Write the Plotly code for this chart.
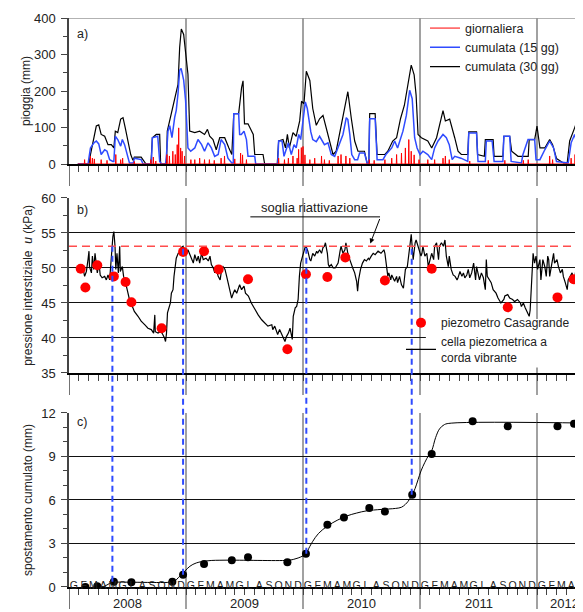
import plotly.graph_objects as go

# ---------------- data (time t = months since 1 Jan 2008) ----------------
month_letters = ["G", "F", "M", "A", "M", "G", "L", "A", "S", "O", "N", "D"]
year_labels = ["2008", "2009", "2010", "2011", "2012"]

rain_daily_t = [1.6, 2.2, 2.4, 2.6, 3.3, 3.9, 4.8, 5.3, 5.5, 6.7, 8.4, 8.65, 8.9, 10.05, 10.3, 10.65,
                10.9, 11.1, 11.25, 11.45, 11.6, 11.85, 12.5, 12.9, 13.4, 13.9, 14.4, 14.9, 15.6, 15.95,
                17.0, 17.6, 17.8, 18.2, 21.5, 22.1, 22.5, 22.97, 23.4, 23.55, 23.83, 24.0, 24.2, 24.7,
                25.2, 25.9, 26.2, 26.7, 27.6, 27.9, 28.4, 28.8, 30.8, 31.3, 32.4, 33.1, 33.6, 34.1,
                34.5, 34.85, 35.1, 35.4, 35.9, 36.8, 37.5, 38.36, 38.6, 39.0, 41.1, 43.0, 44.7, 46.6,
                47.1, 49.3, 49.6, 51.5, 51.9, 52.9, 53.2]
rain_daily_mm = [12, 21, 16, 14, 12, 10, 26, 12, 16, 7, 12, 19, 8, 26, 22, 35,
                 26, 53, 99, 44, 35, 22, 12, 12, 16, 12, 12, 10, 16, 22,
                 14, 30, 25, 12, 16, 12, 16, 22, 16, 40, 45, 48, 25, 12,
                 16, 22, 12, 10, 22, 26, 22, 16, 12, 10, 12, 16, 26, 30,
                 44, 67, 35, 25, 12, 12, 12, 16, 22, 12, 8, 10, 10, 10,
                 12, 22, 12, 16, 26, 22, 16]

rain15_t = [0.9, 1.95, 2.2, 2.56, 2.8, 3.05, 3.3, 3.66, 3.9, 4.17, 4.5, 4.6, 4.75, 5.0, 5.3, 5.47, 5.7,
            6.0, 6.2, 6.6, 6.7, 7.4, 7.6, 8.45, 8.55, 9.1, 9.3, 9.5, 9.9, 10.0, 10.15, 10.33, 10.56,
            10.84, 11.0, 11.18, 11.35, 11.5, 11.76, 11.96, 12.2, 12.48, 12.9, 13.23, 13.6, 13.9, 14.26,
            14.6, 14.94, 15.3, 15.6, 15.97, 16.3, 16.7, 16.85, 16.9, 17.4, 17.5, 17.67, 17.95, 18.2,
            18.36, 19.05, 19.15, 21.4, 21.5, 21.85, 22.05, 22.3, 22.5, 22.8, 23.08, 23.3, 23.56, 23.76,
            24.0, 24.24, 24.44, 24.8, 25.0, 25.36, 25.7, 26.2, 26.56, 26.9, 27.25, 27.6, 28.1, 28.44,
            28.6, 28.8, 29.0, 29.3, 29.6, 29.8, 30.3, 30.6, 30.75, 30.84, 31.4, 31.6, 32.2, 32.5, 33.1,
            33.4, 33.7, 34.25, 34.6, 34.94, 35.2, 35.45, 35.7, 36.0, 36.3, 36.8, 37.2, 37.5, 37.85,
            38.36, 38.7, 39.0, 39.3, 39.56, 40.2, 40.9, 41.0, 41.8, 41.95, 42.7, 42.8, 43.4, 43.6, 44.5,
            44.6, 45.2, 45.35, 46.4, 46.56, 47.08, 47.76, 47.9, 48.3, 48.8, 49.3, 49.7, 50.0, 51.2,
            51.5, 51.86, 52.2, 52.5, 53.06, 53.6]
rain15_mm = [0, 0, 44, 58, 63, 55, 26, 39, 35, 12, 7, 7, 76, 67, 49, 67, 53,
             26, 3, 3, 16, 12, 0, 0, 72, 76, 7, 0, 0, 26, 90, 105, 72,
             128, 147, 193, 257, 262, 230, 173, 44, 35, 44, 67, 53, 35, 58,
             44, 21, 26, 67, 53, 16, 3, 3, 138, 138, 81, 81, 90, 67,
             21, 21, 0, 0, 63, 63, 21, 44, 58, 26, 53, 44, 81, 67,
             127, 170, 152, 88, 67, 61, 76, 53, 58, 26, 21, 44, 81, 127,
             122, 81, 26, 12, 12, 30, 30, 0, 0, 124, 124, 12, 12, 26, 44,
             63, 44, 90, 133, 202, 179, 72, 44, 26, 35, 26, 12, 44, 63,
             81, 72, 53, 12, 21, 16, 7, 85, 85, 7, 7, 63, 63, 7, 7,
             76, 76, 7, 3, 26, 67, 67, 12, 12, 39, 63, 44, 7, 3,
             58, 81, 44, 67, 63, 67]

rain30_t = [0.9, 2.05, 2.2, 2.46, 2.8, 3.05, 3.3, 3.66, 4.0, 4.34, 4.6, 4.75, 5.0, 5.3, 5.54, 5.77,
            6.05, 6.33, 6.56, 6.7, 7.4, 7.76, 7.9, 8.4, 8.55, 8.95, 9.3, 9.4, 10.0, 10.08, 10.33, 10.56,
            10.77, 11.0, 11.18, 11.35, 11.52, 11.76, 11.97, 12.2, 12.38, 12.9, 13.4, 13.9, 14.2, 14.43,
            14.77, 15.1, 15.46, 15.97, 16.4, 16.7, 16.9, 17.4, 17.7, 17.85, 18.0, 18.36, 18.9, 19.05,
            19.9, 20.07, 21.36, 21.5, 21.95, 22.2, 22.4, 22.6, 22.97, 23.3, 23.66, 23.85, 24.1, 24.34,
            24.7, 25.0, 25.36, 25.7, 26.05, 26.4, 26.74, 27.08, 27.4, 27.9, 28.3, 28.6, 28.96, 29.3,
            29.64, 30.3, 30.6, 30.75, 30.84, 31.4, 31.6, 32.4, 32.7, 33.2, 33.6, 34.0, 34.4, 34.77,
            35.1, 35.4, 35.6, 35.8, 36.14, 36.8, 37.2, 37.7, 38.36, 38.6, 39.04, 39.56, 39.9, 40.24,
            40.9, 41.0, 41.8, 41.9, 42.6, 42.7, 43.5, 43.6, 44.5, 44.6, 45.2, 45.4, 46.05, 47.1, 47.2,
            47.76, 48.0, 48.3, 48.8, 49.3, 49.6, 50.0, 50.7, 51.1, 51.35, 51.86, 52.1, 52.5, 52.9,
            53.4, 53.6]
rain30_mm = [0, 0, 26, 63, 104, 107, 81, 76, 53, 53, 44, 90, 86, 123, 127, 99,
             63, 26, 10, 19, 19, 7, 0, 0, 72, 81, 81, 0, 0, 90, 118, 146,
             164, 191, 218, 319, 370, 355, 300, 246, 90, 86, 90, 81, 95, 76,
             67, 39, 72, 72, 44, 26, 138, 138, 209, 228, 110, 110, 81, 26,
             26, 0, 0, 63, 67, 44, 81, 44, 86, 76, 118, 172, 165, 254,
             229, 152, 106, 124, 133, 99, 63, 26, 35, 99, 152, 198, 124, 63,
             35, 35, 0, 0, 138, 138, 26, 26, 35, 63, 72, 124, 161, 225,
             271, 244, 189, 81, 72, 63, 44, 72, 146, 118, 123, 72, 35, 26,
             26, 88, 88, 26, 21, 67, 67, 21, 21, 76, 76, 35, 21, 21, 67,
             67, 104, 44, 44, 67, 53, 15, 3, 3, 63, 99, 118, 90, 113,
             90, 95]

piezo_t = [1.26, 1.44, 1.6, 1.78, 1.95, 2.05, 2.1, 2.3, 2.4, 2.53, 2.67, 2.8, 2.9, 3.08, 3.2, 3.4,
           3.66, 3.83, 4.0, 4.17, 4.27, 4.38, 4.5, 4.6, 4.72, 4.8, 4.92, 5.06, 5.2, 5.26, 5.47, 5.6,
           5.8, 6.05, 6.2, 6.5, 6.7, 7.08, 7.4, 7.76, 8.1, 8.44, 8.68, 8.8, 8.85, 9.13, 9.37, 9.54,
           9.64, 9.8, 9.9, 10.0, 10.1, 10.26, 10.4, 10.5, 10.67, 10.77, 10.9, 11.0, 11.2, 11.35, 11.5,
           11.7, 11.86, 12.03, 12.2, 12.38, 12.58, 12.75, 12.9, 13.1, 13.26, 13.4, 13.6, 13.77, 14.05,
           14.29, 14.46, 14.6, 14.8, 14.95, 15.1, 15.3, 15.5, 15.66, 15.8, 16.0, 16.17, 16.34, 16.5,
           16.68, 16.85, 17.0, 17.2, 17.37, 17.5, 17.7, 17.95, 18.1, 18.4, 18.7, 19.1, 19.4, 19.76,
           20.1, 20.4, 20.8, 20.9, 21.1, 21.3, 21.4, 21.6, 21.8, 21.98, 22.15, 22.3, 22.5, 22.67, 22.8,
           22.9, 23.0, 23.2, 23.35, 23.5, 23.63, 23.76, 23.9, 24.03, 24.2, 24.3, 24.5, 24.7, 24.8,
           25.0, 25.2, 25.4, 25.5, 25.7, 25.9, 26.05, 26.2, 26.3, 26.5, 26.6, 26.7, 26.9, 27.1, 27.3,
           27.4, 27.6, 27.8, 27.9, 28.1, 28.3, 28.4, 28.6, 28.8, 28.95, 29.1, 29.3, 29.5, 29.6, 29.7,
           29.9, 30.1, 30.3, 30.5, 30.7, 30.8, 31.0, 31.2, 31.4, 31.7, 32.0, 32.3, 32.4, 32.5, 32.7,
           32.8, 33.0, 33.1, 33.4, 33.6, 33.7, 33.9, 34.1, 34.3, 34.4, 34.5, 34.7, 34.9, 35.0, 35.1,
           35.2, 35.3, 35.5, 35.6, 35.8, 35.98, 36.1, 36.2, 36.3, 36.5, 36.7, 36.85, 37.0, 37.2, 37.4,
           37.5, 37.7, 37.9, 38.0, 38.2, 38.4, 38.56, 38.7, 38.9, 39.0, 39.2, 39.4, 39.6, 39.8, 39.9,
           40.1, 40.3, 40.45, 40.6, 40.8, 40.95, 41.1, 41.3, 41.5, 41.6, 41.7, 41.8, 41.98, 42.1, 42.3,
           42.5, 42.7, 42.8, 42.9, 43.1, 43.3, 43.5, 43.8, 44.0, 44.3, 44.6, 44.7, 45.0, 45.2, 45.5,
           45.7, 46.0, 46.3, 46.4, 46.6, 46.8, 47.0, 47.2, 47.3, 47.4, 47.5, 47.6, 47.75, 47.9, 48.06,
           48.3, 48.4, 48.6, 48.8, 48.95, 49.1, 49.2, 49.3, 49.5, 49.7, 49.8, 50.05, 50.2, 50.4, 50.6,
           50.7, 50.9, 51.1, 51.2, 51.4, 51.6, 51.8, 51.9, 52.1, 52.2, 52.4, 52.5, 52.7, 52.9, 53.1,
           53.2, 53.4, 53.6]
piezo_kpa = [50.2, 50.0, 48.8, 49.5, 51.2, 52.4, 50.2, 49.3, 51.7, 49.8, 52.1, 50.2, 49.3, 50.7, 49.0, 48.6,
             48.8, 48.3, 49.0, 48.3, 50.2, 53.1, 54.5, 55.2, 53.1, 49.8, 52.1, 49.3, 53.1, 49.5, 50.2, 48.8,
             47.9, 46.4, 45.5, 44.5, 43.8, 43.1, 42.4, 41.9, 41.4, 41.2, 40.7, 43.3, 40.9, 40.7, 40.9, 40.7,
             40.5, 40.0, 39.5, 40.7, 43.6, 44.5, 45.0, 46.4, 46.9, 48.8, 50.7, 51.4, 52.1, 52.1, 52.9,
             53.1, 52.4, 51.9, 52.6, 51.9, 51.2, 50.7, 51.9, 51.0, 51.7, 50.7, 52.1, 51.2, 51.4,
             51.0, 51.7, 50.5, 50.0, 49.3, 49.8, 48.8, 48.3, 49.8, 50.2, 49.8, 48.8, 47.9, 46.9,
             45.7, 46.4, 46.9, 46.4, 47.1, 47.6, 46.9, 47.4, 46.4, 46.0, 45.0, 44.0, 43.3, 42.6,
             42.1, 41.7, 41.9, 41.2, 41.7, 40.7, 40.5, 41.2, 40.5, 40.0, 39.5, 40.2, 40.7, 41.4, 40.7,
             39.8, 43.1, 44.3, 44.5, 45.5, 48.8, 50.7, 51.4, 52.1, 52.9, 53.1, 52.4, 51.2, 51.0,
             52.1, 51.7, 52.4, 52.1, 52.6, 52.1, 52.9, 53.1, 53.6, 52.1, 50.5, 50.2, 50.5, 50.0, 50.0,
             50.2, 50.7, 52.4, 53.1, 52.1, 52.6, 53.6, 52.1, 51.2, 50.5, 50.0, 49.3, 48.1, 46.7, 48.3,
             49.8, 50.7, 51.2, 51.0, 51.4, 51.2, 51.7, 52.1, 51.9, 52.4, 52.1, 52.6, 52.1, 51.0, 48.8,
             49.3, 48.3, 49.0, 48.1, 48.8, 47.9, 48.8, 47.6, 47.1, 48.8, 49.8, 50.2, 52.1, 53.6, 54.8,
             53.1, 51.2, 53.6, 54.0, 53.1, 52.1, 51.7, 52.1, 53.1, 51.7, 52.1, 50.2, 51.0, 52.1, 51.2,
             53.1, 53.6, 51.2, 53.1, 53.6, 53.1, 54.0, 51.7, 50.2, 51.7, 49.8, 49.0, 48.8, 48.3, 48.6,
             49.5, 48.8, 49.3, 48.6, 49.0, 49.8, 48.6, 49.3, 50.7, 49.8, 48.3, 50.2, 49.0, 48.3, 49.3,
             48.6, 46.9, 51.2, 48.8, 48.3, 47.9, 46.9, 46.4, 45.7, 45.0, 45.5, 46.0, 46.2, 45.7, 45.5,
             45.2, 45.5, 45.0, 44.5, 45.0, 44.3, 43.6, 43.1, 44.0, 47.4, 49.8, 52.1, 50.7, 51.7, 49.8,
             51.2, 48.3, 51.2, 50.2, 48.8, 51.7, 51.2, 48.8, 50.2, 52.1, 50.7, 51.2, 50.2, 49.3, 49.8,
             48.8, 47.9, 46.9, 48.3, 48.8, 49.3, 48.1, 48.8, 51.2, 48.3, 48.8, 48.1, 48.3, 48.8, 47.9,
             46.9, 47.4, 47.0]

casagrande_t = [1.2, 1.68, 2.9, 4.6, 5.8, 6.4, 9.5, 11.7, 13.85, 15.35, 18.36, 22.4, 24.3, 26.5,
                28.34, 32.4, 37.2, 45.0, 50.1, 51.75, 53.45]
casagrande_kpa = [49.9, 47.2, 50.4, 48.8, 48.0, 45.1, 41.4, 52.3, 52.4, 49.8, 48.4, 38.4, 49.1, 48.7,
                  51.5, 48.2, 49.9, 44.4, 45.8, 48.4, 48.4]

disp_t = [1.68, 2.9, 4.6, 6.4, 10.6, 11.7, 13.85, 16.7, 18.36, 22.4, 24.3, 26.5, 28.2, 30.8,
          32.4, 35.2, 37.2, 41.4, 45.0, 50.1, 51.8, 53.4]
disp_mm = [0.0, 0.05, 0.37, 0.32, 0.37, 0.85, 1.59, 1.84, 2.05, 1.7, 2.3, 4.3, 4.8, 5.45,
           5.2, 6.37, 9.17, 11.43, 11.08, 11.08, 11.26, 11.08]

disp_fit_t = [3.25, 3.6, 4.0, 4.3, 4.6, 10.5, 10.8, 11.35, 11.86, 12.4, 13.06, 14.26, 16.0, 22.4,
              23.0, 23.5, 24.0, 24.3, 24.7, 25.0, 25.6, 26.5, 27.5, 28.5, 29.5, 30.5, 32.0, 33.5,
              34.1, 34.5, 34.77, 35.2, 35.5, 35.8, 36.1, 36.5, 36.9, 37.2, 37.6, 38.0, 38.5, 39.2, 53.6]
disp_fit_mm = [0.0, 0.05, 0.18, 0.3, 0.33, 0.33, 0.38, 0.74, 1.08, 1.43, 1.66, 1.81, 1.85, 1.84,
               1.9, 2.0, 2.15, 2.3, 2.8, 3.15, 3.7, 4.2, 4.6, 4.9, 5.1, 5.25, 5.35, 5.42,
               5.5, 5.7, 5.9, 6.37, 6.8, 7.4, 8.0, 8.6, 9.1, 9.4, 10.3, 10.9, 11.2, 11.3, 11.3]

soglia_kpa = 53.1
react_t = [4.45, 11.7, 24.34, 35.15]
react_disp = [0.37, 0.85, 2.3, 6.37]

# ---------------- layout geometry ----------------
XMAX = 522 / 9.75
DA = [0.7434, 1.0]
DB = [0.3761, 0.6837]
DC = [0.0, 0.3058]
PX = 1 / 569.0
FONT = "Liberation Sans, Arial, sans-serif"


def pyb(v):
    return DB[0] + (v - 35) / 25 * (DB[1] - DB[0])


def pyc(v):
    return DC[0] + v / 12 * (DC[1] - DC[0])


# red daily series as thin spikes from a zero baseline
dx, dy = [0.9], [0]
for t, v in sorted(zip(rain_daily_t, rain_daily_mm)):
    dx += [t - 0.03, t, t + 0.03]
    dy += [0, v, 0]
dx.append(XMAX)
dy.append(0)

fig = go.Figure()
fig.add_trace(go.Scatter(x=rain30_t, y=rain30_mm, mode="lines", name="cumulata (30 gg)",
                         line=dict(color="black", width=1.2), xaxis="x", yaxis="y", legend="legend"))
fig.add_trace(go.Scatter(x=rain15_t, y=rain15_mm, mode="lines", name="cumulata (15 gg)",
                         line=dict(color="#2f4bff", width=1.5), xaxis="x", yaxis="y", legend="legend"))
fig.add_trace(go.Scatter(x=dx, y=dy, mode="lines", name="giornaliera",
                         line=dict(color="#ff0000", width=1), xaxis="x", yaxis="y", legend="legend"))
fig.add_trace(go.Scatter(x=piezo_t, y=piezo_kpa, mode="lines", name="cella piezometrica a<br>corda vibrante",
                         line=dict(color="black", width=1.2), xaxis="x2", yaxis="y2", legend="legend2"))
fig.add_trace(go.Scatter(x=casagrande_t, y=casagrande_kpa, mode="markers", name="piezometro Casagrande",
                         marker=dict(color="#ff0000", size=10), xaxis="x2", yaxis="y2", legend="legend2"))
fig.add_trace(go.Scatter(x=disp_fit_t, y=disp_fit_mm, mode="lines", line=dict(color="black", width=1, shape="spline"),
                         xaxis="x3", yaxis="y3", showlegend=False))
fig.add_trace(go.Scatter(x=disp_t, y=disp_mm, mode="markers", marker=dict(color="black", size=8),
                         xaxis="x3", yaxis="y3", showlegend=False))

shapes = []
ext = 22 * PX
for dom in (DA, DB, DC):
    for yr in (12, 24, 36, 48):
        shapes.append(dict(type="line", xref="x", yref="paper", x0=yr, x1=yr, y0=dom[0] - ext, y1=dom[1],
                           line=dict(color="#8a8a8a", width=1.6), layer="below"))
    shapes.append(dict(type="line", xref="x", yref="paper", x0=0, x1=0, y0=dom[0] - ext, y1=dom[0],
                       line=dict(color="#444", width=1.5), layer="below"))
# top frame of panel a
shapes.append(dict(type="line", xref="x", yref="y", x0=0, x1=XMAX, y0=400, y1=400,
                   line=dict(color="#999", width=1.5), layer="below"))
# white box behind the panel-b legend (hides the 40 kPa grid line there)
shapes.append(dict(type="rect", xref="x2", yref="y2", x0=36.6, x1=XMAX, y0=35.8, y1=42.7,
                   fillcolor="white", line=dict(width=0), layer="between"))
# threshold line
shapes.append(dict(type="line", xref="x2", yref="y2", x0=0, x1=XMAX, y0=soglia_kpa, y1=soglia_kpa,
                   line=dict(color="#ff4d4d", width=1.6, dash="8px,5px"), layer="above"))
# reactivation dashed lines from panel b to panel c
for t, d in zip(react_t, react_disp):
    shapes.append(dict(type="line", xref="x", yref="paper", x0=t, x1=t, y0=pyc(d), y1=pyb(soglia_kpa),
                       line=dict(color="#2f4bff", width=2, dash="6px,4px"), layer="above"))
# underline of the threshold label
shapes.append(dict(type="line", xref="x2", yref="y2", x0=18.6, x1=31.9, y0=57.3, y1=57.3,
                   line=dict(color="black", width=1)))

annotations = [
    dict(text="a)", x=0.6, y=356, xref="x", yref="y", showarrow=False, xanchor="left",
         font=dict(size=12.5, color="#222", family=FONT)),
    dict(text="b)", x=0.6, y=58.3, xref="x2", yref="y2", showarrow=False, xanchor="left",
         font=dict(size=12.5, color="#222", family=FONT)),
    dict(text="c)", x=0.6, y=11.4, xref="x3", yref="y3", showarrow=False, xanchor="left",
         font=dict(size=12.5, color="#222", family=FONT)),
    dict(text="soglia riattivazione", x=25.2, y=58.7, xref="x2", yref="y2", showarrow=False,
         font=dict(size=13, color="#222", family=FONT)),
    dict(text="", x=30.9, y=53.5, xref="x2", yref="y2", showarrow=True, ax=10, ay=-26,
         arrowhead=2, arrowsize=1, arrowwidth=1, arrowcolor="black"),
]
year_pos = [6, 18, 30, 42, (48 + XMAX) / 2]
for lbl, pos in zip(year_labels, year_pos):
    annotations.append(dict(text=lbl, x=pos, y=-26 * PX, xref="x", yref="paper", showarrow=False,
                            font=dict(size=13, color="#222", family=FONT)))

n_months = 54
mid_vals = [i + 0.5 for i in range(n_months)]
mid_text = [month_letters[i % 12] for i in range(n_months)]
minor_ticks = dict(tickmode="array", tickvals=list(range(1, n_months)), ticks="outside", ticklen=6,
                   tickcolor="#444", tickwidth=1, showgrid=False)

xbase = dict(range=[0, XMAX], showgrid=False, zeroline=False, showline=True, linecolor="black", linewidth=1.5,
             tickmode="array", tickvals=mid_vals, ticktext=mid_text, ticks="", tickangle=0, minor=minor_ticks)

ybase = dict(showline=True, linecolor="#444", linewidth=1.5, ticks="outside", ticklen=6, tickcolor="#444",
             zeroline=False, tickfont=dict(size=13, color="#222", family=FONT), ticklabelstandoff=3,
             title_font=dict(size=12, color="#222", family=FONT))

fig.update_layout(
    width=583, height=612,
    margin=dict(l=61, r=0, t=10, b=33),
    paper_bgcolor="white", plot_bgcolor="rgba(0,0,0,0)",
    font=dict(family=FONT, color="#222"),
    xaxis=dict(xbase, domain=[0, 1], anchor="y", showticklabels=False),
    xaxis2=dict(xbase, domain=[0, 1], anchor="y2", showticklabels=False, matches="x"),
    xaxis3=dict(xbase, domain=[0, 1], anchor="y3", showticklabels=True, matches="x", ticklabelstandoff=-12,
                tickfont=dict(size=10.5, color="#222", family=FONT)),
    yaxis=dict(ybase, domain=DA, anchor="x", range=[0, 400], tickmode="linear", tick0=0, dtick=100,
               showgrid=False, minor=dict(dtick=50, ticks="outside", ticklen=4, tickcolor="#444", showgrid=False),
               title=dict(text="pioggia (mm)", standoff=1)),
    yaxis2=dict(ybase, domain=DB, anchor="x2", range=[35, 60], tickmode="linear", tick0=35, dtick=5,
                showgrid=True, gridcolor="#111", gridwidth=1.1,
                minor=dict(dtick=2.5, ticks="outside", ticklen=4, tickcolor="#444", showgrid=False),
                title=dict(text="pressione interstiziale  <i>u</i> (kPa)", standoff=6)),
    yaxis3=dict(ybase, domain=DC, anchor="x3", range=[0, 12], tickmode="linear", tick0=0, dtick=3,
                showgrid=True, gridcolor="#111", gridwidth=1.1,
                minor=dict(dtick=1, ticks="outside", ticklen=4, tickcolor="#444", showgrid=False),
                title=dict(text="spostamento cumulato (mm)", standoff=6)),
    legend=dict(x=0.682, y=1.008, xanchor="left", yanchor="top", bgcolor="rgba(0,0,0,0)",
                font=dict(size=12.5, color="#222", family=FONT), traceorder="reversed", tracegroupgap=0),
    legend2=dict(x=0.636, y=0.49, xanchor="left", yanchor="top", bgcolor="rgba(0,0,0,0)",
                 font=dict(size=12, color="#222", family=FONT), traceorder="reversed", tracegroupgap=2),
    shapes=shapes,
    annotations=annotations,
)

fig.write_html("out.html")
